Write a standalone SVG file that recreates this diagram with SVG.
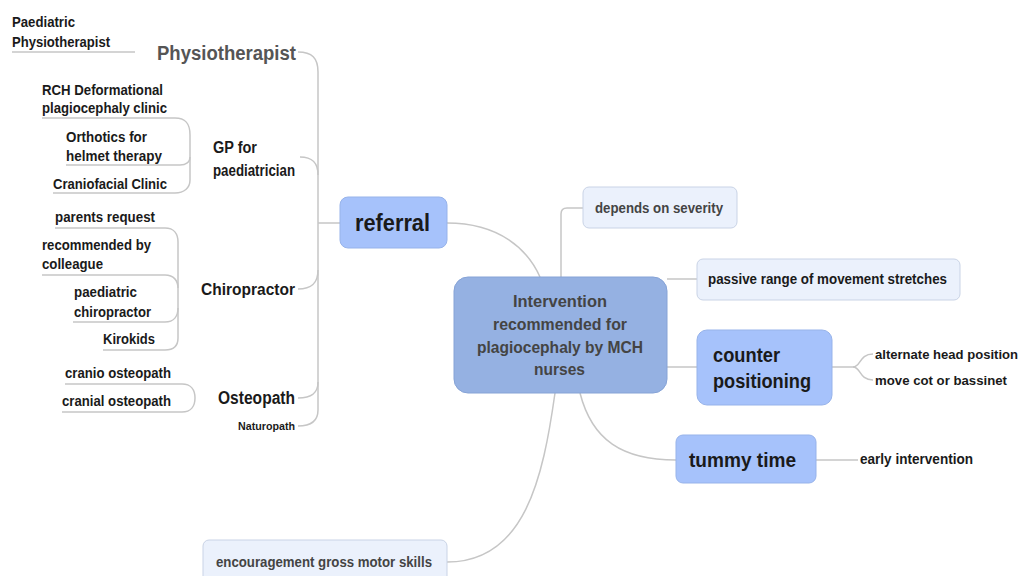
<svg xmlns="http://www.w3.org/2000/svg" width="1024" height="576" viewBox="0 0 1024 576">
<style>
text{font-family:"Liberation Sans",Arial,sans-serif;font-weight:bold;fill:#1a1a1a}
.c{fill:none;stroke:#c6c6c6;stroke-width:1.5}
.main{fill:#a6c2fb;stroke:#97b3ea;stroke-width:1}
.center{fill:#95b1e2;stroke:#86a3d6;stroke-width:1}
.sub{fill:#ebf1fc;stroke:#c9d3e6;stroke-width:1}
.g{fill:#444}
</style>
<rect width="1024" height="576" fill="#fff"/>
<g id="connectors">
<path class="c" d="M447 223 C500 223 528 250 540 277"/>
<path class="c" d="M561 277 V214 Q561 208 567 208 H583"/>
<path class="c" d="M667 279 H697"/>
<path class="c" d="M667 367 H697"/>
<path class="c" d="M832 367 H853 C861 367 859 354 873 354"/>
<path class="c" d="M853 367 C861 367 859 380 873 380"/>
<path class="c" d="M580 393 C592 440 622 460 676 460"/>
<path class="c" d="M816 460 H858"/>
<path class="c" d="M555 393 C543 478 525 562 447 562"/>
<path class="c" d="M340 223 H318"/>
<path class="c" d="M298 52 C312 52 318 58 318 72 V410 C318 420 312 426 298 426"/>
<path class="c" d="M300 157 C312 157 318 162 318 175"/>
<path class="c" d="M318 270 C318 283 312 289 298 289"/>
<path class="c" d="M318 382 C318 393 312 398 298 398"/>
<path class="c" d="M12 52 H135"/>
<path class="c" d="M42 118 H175 C186 118 190 124 190 135 V180 C190 188 184 193 175 193 H53"/>
<path class="c" d="M66 165 H180 C186 165 190 162 190 157"/>
<path class="c" d="M55 228 H165 C174 228 178 234 178 242 V338 C178 345 174 350 165 350 H103"/>
<path class="c" d="M42 275 H165 C174 275 178 281 178 288"/>
<path class="c" d="M73 322 H165 C174 322 178 316 178 308"/>
<path class="c" d="M65 384 H182 C191 384 195 390 195 398 C195 406 191 412 182 412 H62"/>
</g>
<g id="central">
<rect class="center" x="454" y="277" width="213" height="116" rx="14"/>
<text class="g" x="513" y="307" font-size="16" textLength="94" lengthAdjust="spacingAndGlyphs">Intervention</text>
<text class="g" x="493" y="330" font-size="16" textLength="134" lengthAdjust="spacingAndGlyphs">recommended for</text>
<text class="g" x="477" y="353" font-size="16" textLength="166" lengthAdjust="spacingAndGlyphs">plagiocephaly by MCH</text>
<text class="g" x="534" y="375" font-size="16" textLength="51" lengthAdjust="spacingAndGlyphs">nurses</text>
</g>
<g id="referral">
<rect class="main" x="340" y="197" width="107" height="51" rx="8"/>
<text x="355" y="231" font-size="24" textLength="75" lengthAdjust="spacingAndGlyphs">referral</text>
</g>
<g id="depends">
<rect class="sub" x="583" y="187" width="154" height="41" rx="6"/>
<text class="g" x="595" y="213" font-size="14" textLength="128" lengthAdjust="spacingAndGlyphs">depends on severity</text>
</g>
<g id="passive">
<rect class="sub" x="697" y="259" width="263" height="41" rx="6"/>
<text x="708" y="284" font-size="15" textLength="239" lengthAdjust="spacingAndGlyphs" fill="#222">passive range of movement stretches</text>
</g>
<g id="counter">
<rect class="main" x="697" y="330" width="135" height="75" rx="10"/>
<text x="713" y="362" font-size="20" textLength="67" lengthAdjust="spacingAndGlyphs">counter</text>
<text x="713" y="388" font-size="20" textLength="98" lengthAdjust="spacingAndGlyphs">positioning</text>
</g>
<g id="alternate">
<text x="875" y="359" font-size="13" textLength="143" lengthAdjust="spacingAndGlyphs">alternate head position</text>
</g>
<g id="movecot">
<text x="875" y="385" font-size="13.5" textLength="132" lengthAdjust="spacingAndGlyphs">move cot or bassinet</text>
</g>
<g id="tummy">
<rect class="main" x="676" y="435" width="140" height="48" rx="7"/>
<text x="689" y="467" font-size="21" textLength="107" lengthAdjust="spacingAndGlyphs">tummy time</text>
</g>
<g id="early">
<text x="860" y="464" font-size="14.5" textLength="113" lengthAdjust="spacingAndGlyphs">early intervention</text>
</g>
<g id="encouragement">
<rect class="sub" x="203" y="540" width="244" height="46" rx="6"/>
<text class="g" x="216" y="567" font-size="15" textLength="216" lengthAdjust="spacingAndGlyphs">encouragement gross motor skills</text>
</g>
<g id="physio">
<text x="157" y="60" font-size="20" style="fill:#555" textLength="139" lengthAdjust="spacingAndGlyphs">Physiotherapist</text>
</g>
<g id="paed-physio">
<text x="12" y="27" font-size="15" textLength="63" lengthAdjust="spacingAndGlyphs">Paediatric</text>
<text x="12" y="47" font-size="15" textLength="98" lengthAdjust="spacingAndGlyphs">Physiotherapist</text>
</g>
<g id="gp">
<text x="213" y="153" font-size="16" textLength="44" lengthAdjust="spacingAndGlyphs">GP for</text>
<text x="213" y="176" font-size="16" textLength="82" lengthAdjust="spacingAndGlyphs">paediatrician</text>
</g>
<g id="rch">
<text x="42" y="95" font-size="15" textLength="121" lengthAdjust="spacingAndGlyphs">RCH Deformational</text>
<text x="42" y="113" font-size="15" textLength="125" lengthAdjust="spacingAndGlyphs">plagiocephaly clinic</text>
</g>
<g id="orthotics">
<text x="66" y="142" font-size="15" textLength="81" lengthAdjust="spacingAndGlyphs">Orthotics for</text>
<text x="66" y="161" font-size="15" textLength="96" lengthAdjust="spacingAndGlyphs">helmet therapy</text>
</g>
<g id="craniofacial">
<text x="53" y="189" font-size="15" textLength="114" lengthAdjust="spacingAndGlyphs">Craniofacial Clinic</text>
</g>
<g id="chiropractor">
<text x="201" y="295" font-size="17" textLength="94" lengthAdjust="spacingAndGlyphs">Chiropractor</text>
</g>
<g id="parents">
<text x="55" y="222" font-size="15" textLength="100" lengthAdjust="spacingAndGlyphs">parents request</text>
</g>
<g id="recommended">
<text x="42" y="250" font-size="15" textLength="109" lengthAdjust="spacingAndGlyphs">recommended by</text>
<text x="42" y="269" font-size="15" textLength="61" lengthAdjust="spacingAndGlyphs">colleague</text>
</g>
<g id="paed-chiro">
<text x="74" y="297" font-size="15" textLength="63" lengthAdjust="spacingAndGlyphs">paediatric</text>
<text x="74" y="317" font-size="15" textLength="77" lengthAdjust="spacingAndGlyphs">chiropractor</text>
</g>
<g id="kirokids">
<text x="103" y="344" font-size="15" textLength="52" lengthAdjust="spacingAndGlyphs">Kirokids</text>
</g>
<g id="osteopath">
<text x="218" y="404" font-size="18" textLength="77" lengthAdjust="spacingAndGlyphs">Osteopath</text>
</g>
<g id="cranio">
<text x="65" y="378" font-size="15" textLength="106" lengthAdjust="spacingAndGlyphs">cranio osteopath</text>
</g>
<g id="cranial">
<text x="62" y="406" font-size="15" textLength="109" lengthAdjust="spacingAndGlyphs">cranial osteopath</text>
</g>
<g id="naturopath">
<text x="238" y="430" font-size="11" textLength="57" lengthAdjust="spacingAndGlyphs">Naturopath</text>
</g>
</svg>
